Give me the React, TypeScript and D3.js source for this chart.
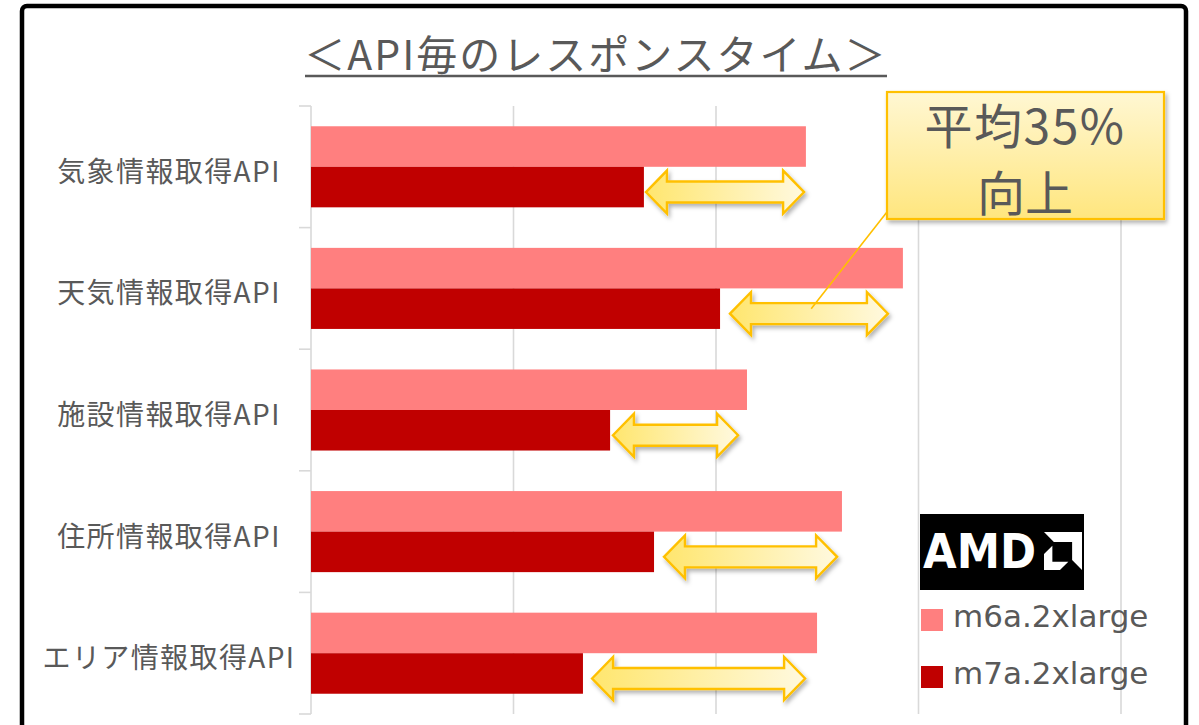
import React from 'react';
import * as d3 from 'd3';

const categories = ['気象情報取得API', '天気情報取得API', '施設情報取得API', '住所情報取得API', 'エリア情報取得API'];
const seriesNames = ['m6a.2xlarge', 'm7a.2xlarge'];
const m6aValues = [244.4, 292.3, 215.3, 262.2, 249.9];
const m7aValues = [164.4, 202.0, 147.7, 169.4, 134.3];
const arrowFrom = [165.4, 206.9, 149.1, 174.3, 138.8];
const arrowTo = [243.5, 284.9, 210.9, 259.8, 244.0];
const xTicks = [0, 100, 200, 300, 400];
const seriesColors = ['#FF7F7F', '#C00000'];
const titleText = '＜API毎のレスポンスタイム＞';
const calloutLines = ['平均35%', '向上'];

const W = 1199;
const H = 725;
const TEXT = '#595959';
const JP = '"Noto Sans CJK JP", "Noto Sans", sans-serif';
const LAT = '"DejaVu Sans", "Noto Sans CJK JP", sans-serif';

function arrowPath(x1: number, x2: number, yc: number) {
  const Hh = 21.5, h = 10.5, L = 21;
  return `M${x1},${yc} L${x1 + L},${yc - Hh} L${x1 + L},${yc - h} L${x2 - L},${yc - h} L${x2 - L},${yc - Hh} L${x2},${yc} L${x2 - L},${yc + Hh} L${x2 - L},${yc + h} L${x1 + L},${yc + h} L${x1 + L},${yc + Hh} Z`;
}

export default function App() {
  const x = d3.scaleLinear().domain([0, 400]).range([311, 1121]);
  const y0 = d3.scaleBand<string>().domain(categories).range([106, 714]).padding(0);
  const y1 = d3.scaleBand<string>().domain(seriesNames).range([0, y0.bandwidth()]).paddingInner(0).paddingOuter(0.5);
  const series = [m6aValues, m7aValues];

  const boundaries = categories.map((c) => y0(c)!).concat([y0.range()[1]]);

  // AMD logo geometry
  const lx = 1044, ly = 532, ls = 38;
  const outer = [[0, 0], [1, 0], [1, 1], [0.74, 0.74], [0.74, 0.26], [0.26, 0.26]];
  const inner = [[0, 0.58], [0.22, 0.36], [0.22, 0.78], [0.64, 0.78], [0.42, 1.0], [0, 1.0]];
  const poly = (pts: number[][]) => pts.map((p) => `${lx + p[0] * ls},${ly + p[1] * ls}`).join(' ');

  const pointerTarget = { x: x(248), y: y0(categories[1])! + y1(seriesNames[1])! + y1.bandwidth() / 2 };

  return (
    <svg width={W} height={H} style={{ position: 'absolute', left: 0, top: 0, background: '#fff' }}>
      <defs>
        <linearGradient id="arrowGrad" x1="0" y1="0" x2="1" y2="0">
          <stop offset="0" stopColor="#FFE66E" />
          <stop offset="1" stopColor="#FFF9DF" />
        </linearGradient>
        <linearGradient id="boxGrad" x1="0" y1="0" x2="0" y2="1">
          <stop offset="0" stopColor="#FFF7D3" />
          <stop offset="1" stopColor="#FFE67E" />
        </linearGradient>
        <filter id="shadow" x="-10%" y="-20%" width="130%" height="160%">
          <feDropShadow dx="2" dy="3" stdDeviation="2" floodColor="#000" floodOpacity="0.3" />
        </filter>
      </defs>

      {/* outer frame */}
      <rect x={22} y={6} width={1164} height={780} rx={5} fill="#fff" stroke="#000" strokeWidth={4.5} />

      {/* title */}
      <text x={596} y={70} textAnchor="middle" fontFamily={JP} fontSize={41} fill={TEXT} letterSpacing={2}>
        {titleText}
      </text>
      <line x1={305} x2={887} y1={76} y2={76} stroke={TEXT} strokeWidth={2.5} />

      {/* gridlines */}
      {xTicks.map((t) => (
        <line key={t} x1={x(t)} x2={x(t)} y1={106} y2={714} stroke="#D9D9D9" strokeWidth={1.6} />
      ))}
      {/* category tick marks */}
      {boundaries.map((b, i) => (
        <line key={i} x1={299} x2={x(0)} y1={b} y2={b} stroke="#D9D9D9" strokeWidth={1.6} />
      ))}

      {/* bars */}
      {categories.map((c, i) => (
        <g key={c}>
          {series.map((s, si) => (
            <rect
              key={si}
              x={x(0)}
              y={y0(c)! + y1(seriesNames[si])!}
              width={x(s[i]) - x(0)}
              height={y1.bandwidth()}
              fill={seriesColors[si]}
            />
          ))}
        </g>
      ))}

      {/* category labels */}
      {categories.map((c) => (
        <text
          key={c}
          x={169}
          y={y0(c)! + y0.bandwidth() / 2 + 15}
          textAnchor="middle"
          fontFamily={JP}
          fontSize={28}
          letterSpacing={1.4}
          fill={TEXT}
        >
          {c}
        </text>
      ))}

      {/* double arrows */}
      {categories.map((c, i) => {
        const yc = y0(c)! + y1(seriesNames[1])! + y1.bandwidth() / 2 + 5;
        return (
          <path
            key={c}
            d={arrowPath(x(arrowFrom[i]), x(arrowTo[i]), yc)}
            fill="url(#arrowGrad)"
            stroke="#FFC000"
            strokeWidth={2.4}
            strokeLinejoin="miter"
            filter="url(#shadow)"
          />
        );
      })}

      {/* callout pointer */}
      <line x1={905} y1={189} x2={pointerTarget.x - 2} y2={pointerTarget.y} stroke="#FFC000" strokeWidth={1.6} />

      {/* callout box */}
      <rect x={887} y={92} width={277} height={127} fill="url(#boxGrad)" stroke="#FFC000" strokeWidth={2.2} filter="url(#shadow)" />
      <text x={1025} y={144} textAnchor="middle" fontFamily={JP} fontSize={48} letterSpacing={1.5} fill={TEXT}>
        {calloutLines[0]}
      </text>
      <text x={1025} y={211} textAnchor="middle" fontFamily={JP} fontSize={48} fill={TEXT}>
        {calloutLines[1]}
      </text>

      {/* AMD logo */}
      <rect x={920} y={514} width={164} height={76} fill="#000" />
      <text x={923} y={568} fontFamily={LAT} fontWeight="bold" fontSize={48} fill="#fff" textLength={113} lengthAdjust="spacingAndGlyphs">
        AMD
      </text>
      <polygon points={poly(outer)} fill="#fff" />
      <polygon points={poly(inner)} fill="#fff" />

      {/* legend */}
      {seriesNames.map((n, i) => (
        <g key={n}>
          <rect x={921} y={609 + i * 57} width={22} height={22} fill={seriesColors[i]} />
          <text x={953} y={627 + i * 57} fontFamily={LAT} fontSize={31} fill={TEXT}>
            {n}
          </text>
        </g>
      ))}
    </svg>
  );
}
